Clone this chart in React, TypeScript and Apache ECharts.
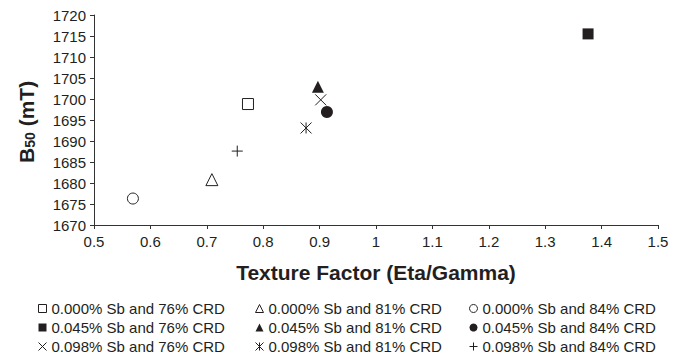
import React, { useEffect, useRef } from "react";
import * as echarts from "echarts";

const seriesNames = [
  "0.000% Sb and 76% CRD",
  "0.045% Sb and 76% CRD",
  "0.098% Sb and 76% CRD",
  "0.000% Sb and 81% CRD",
  "0.045% Sb and 81% CRD",
  "0.098% Sb and 81% CRD",
  "0.000% Sb and 84% CRD",
  "0.045% Sb and 84% CRD",
  "0.098% Sb and 84% CRD",
];

// texture factor (x) for each series
const textureFactor = [0.773, 1.376, 0.902, 0.709, 0.897, 0.876, 0.569, 0.913, 0.754];
// B50 in mT (y) for each series
const b50 = [1698.8, 1715.5, 1699.8, 1680.8, 1702.9, 1693.1, 1676.3, 1696.9, 1687.6];

const xTicks = { min: 0.5, max: 1.5, interval: 0.1 };
const yTicks = { min: 1670, max: 1720, interval: 5 };

const INK = "#231f20";
const CROSS = "path://M0,0L10,10M10,0L0,10";
const STAR = "path://M0,0L10,10M10,0L0,10M5,0L5,10";
const PLUS = "path://M5,0L5,10M0,5L10,5";

type Mk = { symbol: string; fill: string; size: number; border: number };
const markers: Mk[] = [
  { symbol: "rect", fill: "#ffffff", size: 11, border: 1 },
  { symbol: "rect", fill: INK, size: 11, border: 0 },
  { symbol: CROSS, fill: "none", size: 11, border: 1 },
  { symbol: "triangle", fill: "#ffffff", size: 12, border: 1 },
  { symbol: "triangle", fill: INK, size: 12, border: 0 },
  { symbol: STAR, fill: "none", size: 11, border: 1 },
  { symbol: "circle", fill: "#ffffff", size: 11, border: 1 },
  { symbol: "circle", fill: INK, size: 12, border: 0 },
  { symbol: PLUS, fill: "none", size: 11, border: 1 },
];

export default function App() {
  const ref = useRef<HTMLDivElement>(null);
  useEffect(() => {
    if (!ref.current) return;
    const chart = echarts.init(ref.current, null, { renderer: "svg" });
    const font = "'Liberation Sans', Arial, Helvetica, sans-serif";

    const series = seriesNames.map((name, i) => ({
      name,
      type: "scatter",
      data: [[textureFactor[i], b50[i]]],
      symbol: markers[i].symbol,
      symbolSize: markers[i].size,
      itemStyle: {
        color: markers[i].fill,
        borderColor: INK,
        borderWidth: markers[i].border,
        opacity: 1,
      },
      emphasis: { disabled: true },
    }));

    const legendCol = (idx: number[], left: number) => ({
      orient: "vertical",
      left,
      top: 301,
      padding: 0,
      itemGap: 4,
      itemWidth: 8,
      itemHeight: 8,
      selectedMode: false,
      textStyle: { fontSize: 15, fontFamily: font, color: INK, lineHeight: 15 },
      data: idx.map((i) => ({
        name: seriesNames[i],
        icon: markers[i].symbol,
        itemStyle: {
          color: markers[i].fill,
          borderColor: INK,
          borderWidth: markers[i].border,
        },
      })),
    });

    chart.setOption({
      animation: false,
      textStyle: { fontFamily: font },
      grid: { left: 94, right: 27, top: 15, bottom: 136, containLabel: false },
      xAxis: {
        type: "value",
        min: xTicks.min,
        max: xTicks.max,
        interval: xTicks.interval,
        name: "Texture Factor (Eta/Gamma)",
        nameLocation: "middle",
        nameGap: 37,
        nameTextStyle: { fontSize: 21, fontWeight: "bold", color: INK, fontFamily: font },
        axisLine: { show: true, onZero: false, lineStyle: { color: "#333", width: 1 } },
        axisTick: { show: true, length: 4, lineStyle: { color: "#333" } },
        axisLabel: {
          fontSize: 15,
          color: INK,
          margin: 9,
          formatter: (v: number) => String(+v.toFixed(1)),
        },
        splitLine: { show: false },
      },
      yAxis: {
        type: "value",
        min: yTicks.min,
        max: yTicks.max,
        interval: yTicks.interval,
        axisLine: { show: true, onZero: false, lineStyle: { color: "#333", width: 1 } },
        axisTick: { show: true, length: 4, lineStyle: { color: "#333" } },
        axisLabel: {
          fontSize: 15,
          color: INK,
          margin: 8,
          formatter: (v: number) => String(Math.round(v)),
        },
        splitLine: { show: false },
      },
      legend: [
        legendCol([0, 1, 2], 36),
        legendCol([3, 4, 5], 253),
        legendCol([6, 7, 8], 467),
      ],
      graphic: [
        {
          type: "group",
          x: 26,
          y: 163,
          rotation: Math.PI / 2,
          children: [
            {
              type: "text",
              x: 0,
              y: 0,
              style: {
                text: "B",
                font: `bold 21px ${font}`,
                fill: INK,
                align: "left",
                verticalAlign: "middle",
              },
            },
            {
              type: "text",
              x: 15.2,
              y: 4,
              style: {
                text: "50",
                font: `bold 14px ${font}`,
                fill: INK,
                align: "left",
                verticalAlign: "middle",
              },
            },
            {
              type: "text",
              x: 30.8,
              y: 0,
              style: {
                text: " (mT)",
                font: `bold 21px ${font}`,
                fill: INK,
                align: "left",
                verticalAlign: "middle",
              },
            },
          ],
        },
      ],
      series,
    });
    return () => chart.dispose();
  }, []);
  return (
    <div
      ref={ref}
      style={{ position: "fixed", left: 0, top: 0, width: 685, height: 361, background: "#fff" }}
    />
  );
}
